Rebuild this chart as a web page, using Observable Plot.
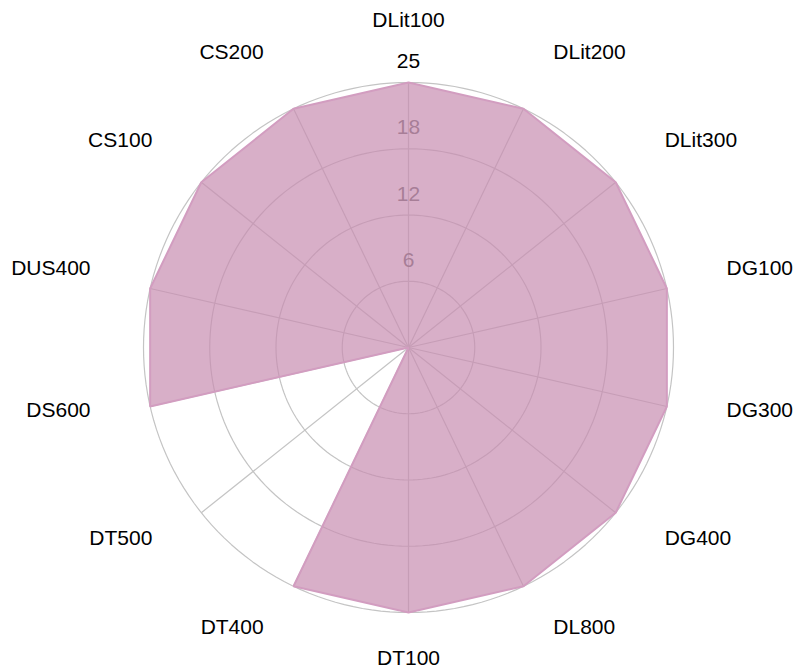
<!DOCTYPE html>
<html>
<head>
<meta charset="utf-8">
<script src="https://cdn.jsdelivr.net/npm/d3@7"></script>
<script src="https://cdn.jsdelivr.net/npm/@observablehq/plot@0.6"></script>
<style>
  html, body { margin: 0; padding: 0; background: #fff; }
  #chart { width: 795px; height: 672px; }
</style>
</head>
<body>
<div id="chart"></div>
<script>
// Data
const categories = ["DLit100", "DLit200", "DLit300", "DG100", "DG300", "DG400", "DL800",
                    "DT100", "DT400", "DT500", "DS600", "DUS400", "CS100", "CS200"];
const values = [25, 25, 25, 25, 25, 25, 25, 25, 25, 0, 25, 25, 25, 25];
const maxValue = 25;
const ringValues = [6.25, 12.5, 18.75, 25];
const ringLabels = ["6", "12", "18", "25"];

// Derived tables
const n = categories.length;
const angle = i => (2 * Math.PI * i) / n; // clockwise from top
const axes = categories.map((name, i) => ({name, a: angle(i), sin: Math.sin(angle(i)), cos: Math.cos(angle(i))}));
const points = values.map((v, i) => ({name: categories[i], x: (v / maxValue) * axes[i].sin, y: (v / maxValue) * axes[i].cos}));
const ringPts = ringValues.flatMap((rv, k) => d3.range(0, 361, 2).map(deg => ({
  ring: k, x: (rv / maxValue) * Math.sin(deg * Math.PI / 180), y: (rv / maxValue) * Math.cos(deg * Math.PI / 180)
})));
const ringText = ringValues.map((rv, k) => ({label: ringLabels[k], r: rv / maxValue}));

const LR = 320 / 265, LRy = 319 / 265;
const side = d => Math.abs(d.sin) < 1e-6 ? "middle" : d.sin > 0 ? "start" : "end";
const labelRows = axes.map(d => ({...d, side: side(d), lx: d.sin * LR, ly: d.cos * LRy}));

const font = "'Liberation Sans', Arial, Helvetica, sans-serif";

const chart = Plot.plot({
  width: 795,
  height: 672,
  margin: 0,
  style: {fontFamily: font, background: "#fff", color: "#000"},
  x: {domain: [-1, 1], range: [408 - 265, 408 + 265], axis: null},
  y: {domain: [-1, 1], range: [347 + 265, 347 - 265], axis: null},
  marks: [
    Plot.line(ringPts, {x: "x", y: "y", z: "ring", stroke: "#c4c4c4", strokeWidth: 1.2}),
    Plot.link(axes, {x1: 0, y1: 0, x2: "sin", y2: "cos", stroke: "#c4c4c4", strokeWidth: 1.2}),
    Plot.text(ringText.filter(d => d.r < 1), {x: 0, y: "r", text: "label", dy: -21, fontSize: 21, fill: "#5a5a5a", textAnchor: "middle"}),
    Plot.text(ringText.filter(d => d.r >= 1), {x: 0, y: "r", text: "label", dy: -21, fontSize: 21, fill: "#000", textAnchor: "middle"}),
    Plot.line(points, {x: "x", y: "y", curve: "linear-closed", fill: "#c78db0", fillOpacity: 0.7,
                       stroke: "#d29dc0", strokeWidth: 2, strokeLinejoin: "miter"}),
    Plot.text(labelRows.filter(d => d.side === "middle"), {x: "lx", y: "ly", text: "name", dy: -8, fontSize: 21, fill: "#000", textAnchor: "middle"}),
    Plot.text(labelRows.filter(d => d.side === "start"), {x: "lx", y: "ly", text: "name", dx: 6, dy: -8, fontSize: 21, fill: "#000", textAnchor: "start"}),
    Plot.text(labelRows.filter(d => d.side === "end"), {x: "lx", y: "ly", text: "name", dx: -6, dy: -8, fontSize: 21, fill: "#000", textAnchor: "end"})
  ]
});
document.getElementById("chart").appendChild(chart);
</script>
</body>
</html>
